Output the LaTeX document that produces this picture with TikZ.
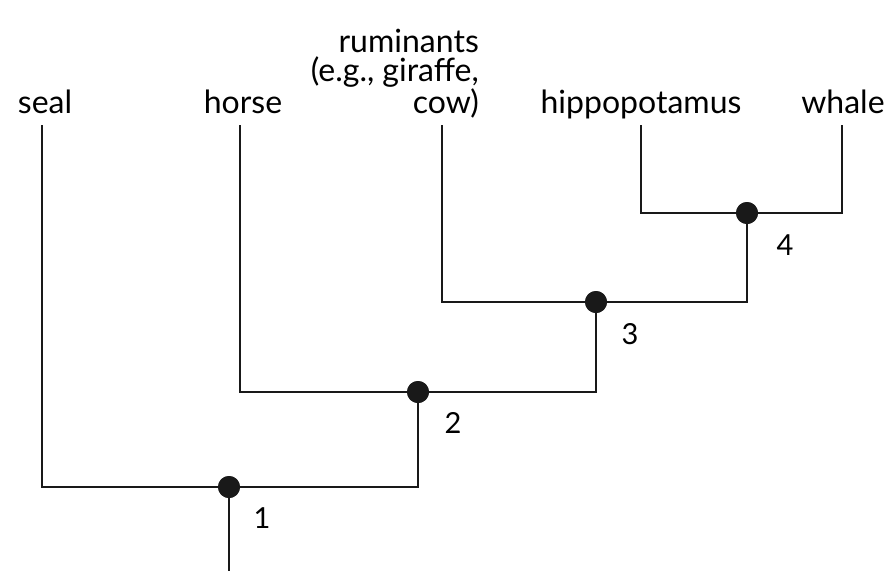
\documentclass[tikz,border=0pt]{standalone}
\usepackage{fontspec}
\setmainfont{Lato}
\begin{document}
\begin{tikzpicture}[x=1pt,y=-1pt,
  lbl/.style={font=\fontsize{32}{29}\selectfont, inner sep=0pt, anchor=base},
  num/.style={font=\fontsize{29}{29}\selectfont, inner sep=0pt, anchor=base},
  br/.style={line width=2.6pt, black!90},
  dot/.style={circle, fill=black!90, minimum size=22pt, inner sep=0pt}]
\useasboundingbox (0,0) rectangle (884,571);
% taxa labels
\node[lbl] (tseal) at (45,113) {seal};
\node[lbl] (thorse) at (243,113) {horse};
\node[lbl, align=right, anchor=base east] (trum) at (479,113) {ruminants\\(e.g., giraffe,\\cow)};
\node[lbl] (thippo) at (641,113) {hippopotamus};
\node[lbl] (twhale) at (843,113) {whale};
% tips
\coordinate (seal) at (42,125);
\coordinate (horse) at (240,125);
\coordinate (rum) at (442,125);
\coordinate (hippo) at (641,125);
\coordinate (whale) at (842,125);
\coordinate (root) at (229,571);
% internal nodes
\node[dot] (n4) at (747,213) {};
\node[dot] (n3) at (596,302) {};
\node[dot] (n2) at (418,392) {};
\node[dot] (n1) at (229,487) {};
% branches
\draw[br] (hippo) |- (n4.center) -| (whale);
\draw[br] (rum) |- (n3.center) -| (n4.center);
\draw[br] (horse) |- (n2.center) -| (n3.center);
\draw[br] (seal) |- (n1.center) -| (n2.center);
\draw[br] (n1.center) -- (root);
\node[dot] at (n4) {};
\node[dot] at (n3) {};
\node[dot] at (n2) {};
\node[dot] at (n1) {};
% numbers
\node[num] (l4) at (785,255) {4};
\node[num] (l3) at (630,344) {3};
\node[num] (l2) at (453,433) {2};
\node[num] (l1) at (262,528) {1};
\end{tikzpicture}
\end{document}
